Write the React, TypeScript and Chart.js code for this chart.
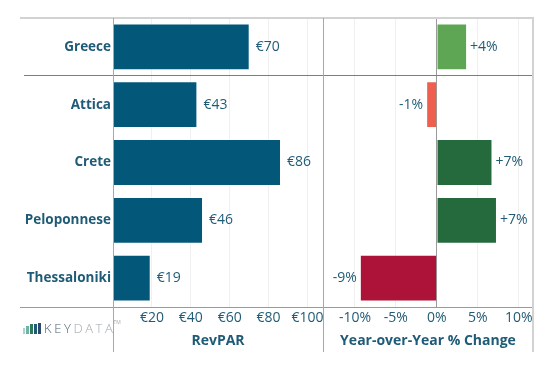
import React, { useEffect, useRef } from "react";
import { Chart, registerables } from "chart.js";
Chart.register(...registerables);

const regions = ["Greece", "Attica", "Crete", "Peloponnese", "Thessaloniki"];
const revpar = [70.3, 43.4, 86.4, 46.3, 19.4];
const yoyChange = [3.7, -1.3, 6.8, 7.35, -9.4];
const revparTicks = [20, 40, 60, 80, 100];
const yoyTicks = [-10, -5, 0, 5, 10];
const yoyColors = ["#5ea654", "#ef5f50", "#256a3c", "#256a3c", "#ad1338"];

const FONT = "'Open Sans', 'DejaVu Sans', sans-serif";
const TEXT = "#1f5b76";
const BAR = "#03587a";

const TOP = 18;
const BOTTOM_LINE = 352;

function linesPlugin(side: "left" | "right") {
  return {
    id: "lines-" + side,
    afterDraw(chart: any) {
      const ctx = chart.ctx;
      const a = chart.chartArea;
      const ys = chart.scales.y;
      const sepY = Math.round((ys.getPixelForValue(0) + ys.getPixelForValue(1)) / 2) - 1;
      ctx.save();
      const x0 = side === "left" ? 20 : 0;
      const x1 = side === "left" ? chart.width : a.right;
      // top border
      ctx.fillStyle = "#d2d2d2";
      ctx.fillRect(x0, TOP - 1, x1 - x0 + (side === "right" ? 1 : 0), 2);
      // separator under Greece
      ctx.fillStyle = "#7d7d7d";
      ctx.fillRect(side === "left" ? 24 : 0, sepY, x1 - (side === "left" ? 24 : 0), 1);
      // bottom axis line
      ctx.fillStyle = "#9a9a9a";
      ctx.fillRect(x0, Math.round(a.bottom), x1 - x0, 1);
      // vertical pane divider
      ctx.fillStyle = "#a8a8a8";
      const vx = side === "left" ? Math.round(a.left) : 0;
      ctx.fillRect(vx, TOP, 1, BOTTOM_LINE - TOP);
      if (side === "right") {
        ctx.fillStyle = "#d2d2d2";
        ctx.fillRect(Math.round(a.right) - 1, TOP - 1, 2, BOTTOM_LINE - TOP + 1);
      }
      if (side === "left") {
        // logo
        const bars = [
          { x: 23, w: 2, h: 6, c: "#a9d3cf" },
          { x: 26, w: 3, h: 8, c: "#6fb3a6" },
          { x: 30, w: 3, h: 10, c: "#2f7a55" },
          { x: 34, w: 3, h: 10, c: "#1f5b76" },
          { x: 38, w: 3, h: 11, c: "#2e4a6b" },
        ];
        bars.forEach((b) => {
          ctx.fillStyle = b.c;
          ctx.fillRect(b.x, 334 - b.h, b.w, b.h);
        });
        ctx.font = `300 13px ${FONT}`;
        ctx.textBaseline = "middle";
        ctx.textAlign = "left";
        (ctx as any).letterSpacing = "2.6px";
        ctx.fillStyle = "#4c6371";
        ctx.fillText("KEY", 44, 329);
        const w = ctx.measureText("KEY").width;
        ctx.fillStyle = "#a3aaae";
        ctx.fillText("DATA", 44 + w, 329);
        const w2 = ctx.measureText("DATA").width;
        (ctx as any).letterSpacing = "0px";
        ctx.font = `5px ${FONT}`;
        ctx.fillText("TM", 44 + w + w2 - 2, 323);
      }
      ctx.restore();
    },
  };
}

function labelsPlugin(kind: "revpar" | "yoy") {
  return {
    id: "labels-" + kind,
    afterDatasetsDraw(chart: any) {
      const ctx = chart.ctx;
      const meta = chart.getDatasetMeta(0);
      const values = chart.data.datasets[0].data as number[];
      ctx.save();
      ctx.font = `14px ${FONT}`;
      ctx.fillStyle = TEXT;
      ctx.textBaseline = "middle";
      meta.data.forEach((bar: any, i: number) => {
        const v = values[i];
        if (kind === "revpar") {
          ctx.textAlign = "left";
          ctx.fillText("€" + Math.round(v), bar.x + 6, bar.y);
        } else {
          const r = Math.round(v);
          const t = (r > 0 ? "+" : r < 0 ? "-" : "") + Math.abs(r) + "%";
          if (v >= 0) {
            ctx.textAlign = "left";
            ctx.fillText(t, bar.x + 3, bar.y);
          } else {
            ctx.textAlign = "right";
            ctx.fillText(t, bar.x - 3, bar.y);
          }
        }
      });
      ctx.restore();
    },
  };
}

export default function App() {
  const leftRef = useRef<HTMLCanvasElement>(null);
  const rightRef = useRef<HTMLCanvasElement>(null);

  useEffect(() => {
    const common = {
      indexAxis: "y" as const,
      responsive: false,
      animation: false as const,
      plugins: { legend: { display: false }, tooltip: { enabled: false } },
    };
    const left = new Chart(leftRef.current!, {
      type: "bar",
      data: {
        labels: regions,
        datasets: [
          {
            data: revpar,
            backgroundColor: BAR,
            borderColor: "rgba(255,255,255,0.35)",
            borderWidth: 1,
            barPercentage: 0.81,
            categoryPercentage: 1,
          },
        ],
      },
      options: {
        ...common,
        layout: { padding: { top: TOP, left: 0, right: 0, bottom: 0 } },
        scales: {
          x: {
            min: 0,
            max: 108,
            afterBuildTicks: (s: any) => {
              s.ticks = revparTicks.map((v) => ({ value: v }));
            },
            afterFit: (s: any) => {
              s.height = 77;
              s.paddingLeft = 0;
              s.paddingRight = 0;
            },
            grid: { color: "#f0f0f0", drawTicks: false },
            border: { display: false },
            ticks: {
              padding: 3,
              color: TEXT,
              font: { family: FONT, size: 14 },
              maxRotation: 0,
              autoSkip: false,
              callback: (v: any) => "€" + v,
            },
            title: {
              display: true,
              text: "RevPAR",
              color: TEXT,
              font: { family: FONT, size: 14, weight: "bold" },
              padding: { top: 0, bottom: 35 },
            },
          },
          y: {
            afterFit: (s: any) => {
              s.width = 113;
            },
            grid: { display: false, drawTicks: false },
            border: { display: false },
            ticks: {
              padding: 2,
              color: TEXT,
              font: { family: FONT, size: 13.5, weight: "bold" },
            },
          },
        },
      } as any,
      plugins: [linesPlugin("left"), labelsPlugin("revpar")],
    });

    const right = new Chart(rightRef.current!, {
      type: "bar",
      data: {
        labels: regions,
        datasets: [
          {
            data: yoyChange,
            backgroundColor: yoyColors,
            borderColor: "rgba(255,255,255,0.35)",
            borderWidth: 1,
            barPercentage: 0.81,
            categoryPercentage: 1,
          },
        ],
      },
      options: {
        ...common,
        layout: { padding: { top: TOP, left: 0, right: 26, bottom: 0 } },
        scales: {
          x: {
            min: -13.9,
            max: 11.75,
            afterBuildTicks: (s: any) => {
              s.ticks = yoyTicks.map((v) => ({ value: v }));
            },
            afterFit: (s: any) => {
              s.height = 77;
              s.paddingLeft = 0;
              s.paddingRight = 0;
            },
            grid: {
              color: (c: any) => (c.tick && c.tick.value === 0 ? "#9a9a9a" : "#f0f0f0"),
              drawTicks: false,
            },
            border: { display: false },
            ticks: {
              padding: 3,
              color: TEXT,
              font: { family: FONT, size: 14 },
              maxRotation: 0,
              autoSkip: false,
              callback: (v: any) => (v < 0 ? "-" + Math.abs(v) : "" + v) + "%",
            },
            title: {
              display: true,
              text: "Year-over-Year % Change",
              color: TEXT,
              font: { family: FONT, size: 14, weight: "bold" },
              padding: { top: 0, bottom: 35 },
            },
          },
          y: { display: false },
        },
      } as any,
      plugins: [linesPlugin("right"), labelsPlugin("yoy")],
    });

    return () => {
      left.destroy();
      right.destroy();
    };
  }, []);

  return (
    <div style={{ position: "absolute", left: 0, top: 0, width: 559, height: 384, background: "#fff" }}>
      <canvas ref={leftRef} width={323} height={384} style={{ position: "absolute", left: 0, top: 0 }} />
      <canvas ref={rightRef} width={236} height={384} style={{ position: "absolute", left: 323, top: 0 }} />
    </div>
  );
}
